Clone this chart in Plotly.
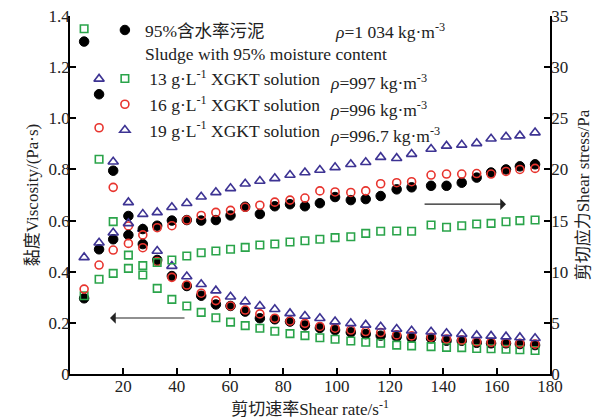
import plotly.graph_objects as go

# Shear rate (s^-1)
shear_rate = [5.3, 10.9, 16.2, 21.9, 27.3, 32.7, 38.2, 43.8, 49.2, 54.7, 60.2, 65.7, 71.2, 76.8, 82.5,
              88.1, 93.7, 99.4, 105.3, 110.9, 116.5, 122.5, 128.1, 135.4, 141.2, 146.9, 152.5, 157.9,
              163.5, 168.7, 174.4]

# Viscosity (Pa·s)
visc_sludge = [1.30, 1.094, 0.795, 0.618, 0.508, 0.446, 0.383, 0.344, 0.306, 0.272, 0.266, 0.244, 0.218,
               0.214, 0.205, 0.190, 0.180, 0.172, 0.163, 0.156, 0.150, 0.146, 0.142, 0.140, 0.130, 0.130,
               0.122, 0.120, 0.120, 0.117, 0.113]
visc_13 = [1.35, 0.84, 0.596, 0.465, 0.387, 0.335, 0.292, 0.266, 0.241, 0.220, 0.203, 0.189, 0.179, 0.167,
           0.158, 0.150, 0.142, 0.136, 0.129, 0.124, 0.120, 0.113, 0.110, 0.107, 0.104, 0.103, 0.100, 0.099,
           0.097, 0.095, 0.092]
visc_16 = [None, 0.963, 0.73, 0.579, 0.494, 0.44, 0.378, 0.348, 0.316, 0.287, 0.266, 0.250, 0.235, 0.218,
           0.207, 0.198, 0.186, 0.179, 0.172, 0.166, 0.162, 0.153, 0.149, 0.144, 0.137, 0.133, 0.126, 0.124,
           0.122, 0.120, 0.117]
visc_19 = [None, 1.154, 0.83, 0.671, 0.567, 0.481, 0.422, 0.381, 0.351, 0.326, 0.302, 0.283, 0.266, 0.253,
           0.237, 0.227, 0.218, 0.205, 0.198, 0.192, 0.185, 0.176, 0.169, 0.165, 0.159, 0.156, 0.151, 0.149,
           0.146, 0.143, 0.140]

# Shear stress (Pa)
stress_sludge = [7.4, 12.19, 13.17, 13.59, 14.17, 14.5, 15.0, 15.05, 15.0, 15.05, 15.5, 16.35, 15.64, 16.4,
                 16.6, 16.4, 16.7, 17.3, 17.0, 17.1, 17.4, 18.05, 18.25, 18.4, 18.4, 18.7, 19.2, 19.7, 20.0,
                 20.3, 20.5]
stress_13 = [7.65, 9.26, 9.84, 10.33, 10.6, 10.9, 11.14, 11.53, 11.86, 12.02, 12.19, 12.38, 12.61, 12.71,
             12.9, 13.03, 13.17, 13.33, 13.42, 13.75, 13.95, 13.98, 13.95, 14.57, 14.34, 14.5, 14.66, 14.73,
             14.89, 14.99, 15.05]
stress_16 = [8.3, 10.65, 12.12, 12.77, 13.6, 14.3, 14.5, 15.05, 15.5, 15.8, 16.0, 16.3, 16.5, 16.8, 17.0,
             17.2, 17.9, 17.8, 17.75, 17.9, 18.6, 18.7, 18.8, 19.45, 19.55, 19.55, 19.6, 19.55, 19.8, 20.0,
             20.1]
stress_19 = [11.4, 12.83, 13.81, 14.73, 15.63, 15.8, 16.3, 16.69, 17.33, 17.76, 18.15, 18.6, 18.87, 19.13,
             19.45, 19.7, 19.95, 20.2, 20.5, 20.7, 21.2, 21.1, 21.5, 22.0, 22.3, 22.4, 22.55, 23.0, 23.2,
             23.3, 23.6]

x_ticks = [20, 40, 60, 80, 100, 120, 140, 160, 180]
visc_ticks = [0, 0.2, 0.4, 0.6, 0.8, 1.0, 1.2, 1.4]
visc_tick_text = ["0", "0.2", "0.4", "0.6", "0.8", "1.0", "1.2", "1.4"]
stress_ticks = [0, 5, 10, 15, 20, 25, 30, 35]

names = ["95%含水率污泥<br>Sludge with 95% moisture content",
         " 13 g·L<sup>-1</sup> XGKT solution",
         " 16 g·L<sup>-1</sup> XGKT solution",
         " 19 g·L<sup>-1</sup> XGKT solution"]
densities = ["<i>ρ</i>=1 034 kg·m<sup>-3</sup>",
             "<i>ρ</i>=997 kg·m<sup>-3</sup>",
             "<i>ρ</i>=996 kg·m<sup>-3</sup>",
             "<i>ρ</i>=996.7 kg·m<sup>-3</sup>"]

FONT = "Liberation Serif, Times New Roman, Noto Sans CJK SC, serif"

styles = [
    dict(symbol="circle", size=9.5, color="black", line=dict(color="black", width=1)),
    dict(symbol="square-open", size=7.5, color="#2aa44a", line=dict(color="#2aa44a", width=1.6)),
    dict(symbol="circle-open", size=8, color="#e8342e", line=dict(color="#e8342e", width=1.6)),
    dict(symbol="triangle-up-open", size=9, color="#3d3393", line=dict(color="#3d3393", width=1.6)),
]

visc = [visc_sludge, visc_13, visc_16, visc_19]
stress = [stress_sludge, stress_13, stress_16, stress_19]

fig = go.Figure()
for i in range(4):
    fig.add_trace(go.Scatter(x=shear_rate, y=visc[i], mode="markers", marker=styles[i],
                             name=names[i], showlegend=True, legendrank=i + 1))
for i in range(4):
    fig.add_trace(go.Scatter(x=shear_rate, y=stress[i], mode="markers", marker=styles[i],
                             name=names[i], showlegend=False, yaxis="y2"))

axis_common = dict(showline=True, linecolor="black", linewidth=1.5, ticks="inside", ticklen=6,
                   tickwidth=1.5, tickcolor="black", showgrid=False, zeroline=False,
                   ticklabeloverflow="allow",
                   tickfont=dict(family=FONT, size=17, color="#222"))

# page body adds an 8px offset; figure is sized so the plot area lands at x 70-550, y 16-374
fig.update_layout(
    width=598, height=411,
    margin=dict(l=62, r=56, t=8, b=45, autoexpand=False),
    paper_bgcolor="white", plot_bgcolor="white",
    font=dict(family=FONT, size=17, color="#222"),
    xaxis=dict(range=[0, 180], tickvals=x_ticks, ticklabelstandoff=-4, **axis_common,
               title=dict(text="剪切速率Shear rate/s<sup>-1</sup>", font=dict(family=FONT, size=17), standoff=9)),
    yaxis=dict(range=[0, 1.4], tickvals=visc_ticks, ticktext=visc_tick_text, ticklabelstandoff=-5,
               **axis_common,
               title=dict(text="黏度Viscosity/(Pa·s)", font=dict(family=FONT, size=17), standoff=6)),
    yaxis2=dict(range=[0, 35], tickvals=stress_ticks, overlaying="y", side="right", ticklabelstandoff=-4,
                **axis_common,
                title=dict(text="剪切应力Shear stress/Pa", font=dict(family=FONT, size=17), standoff=10)),
    legend=dict(x=0.0727, y=0.99, xref="paper", yref="container", xanchor="left", yanchor="top",
                bgcolor="rgba(0,0,0,0)",
                font=dict(family=FONT, size=17.5, color="#222"), valign="top",
                tracegroupgap=0, itemsizing="trace"),
    showlegend=True,
)

# density column (page pixel targets converted to paper coords)
dens_y = [29, 80, 107, 133]
dens_x = [333, 328, 328, 328]
for t, yy, xx in zip(densities, dens_y, dens_x):
    fig.add_annotation(text=t, xref="paper", yref="paper", x=(xx - 70) / 480, y=(374 - (yy + 2)) / 358,
                       xanchor="left", yanchor="middle", showarrow=False,
                       font=dict(family=FONT, size=17.5, color="#222"))

# arrows
fig.add_annotation(x=15, y=0.219, ax=43.5, ay=0.219, xref="x", yref="y", axref="x", ayref="y",
                   showarrow=True, arrowhead=1, arrowsize=1.6, arrowwidth=1.2, arrowcolor="#222", text="")
fig.add_annotation(x=163.5, y=16.6, ax=132.4, ay=16.6, xref="x", yref="y2", axref="x", ayref="y2",
                   showarrow=True, arrowhead=1, arrowsize=1.6, arrowwidth=1.2, arrowcolor="#222", text="")

fig.write_html("out.html")
